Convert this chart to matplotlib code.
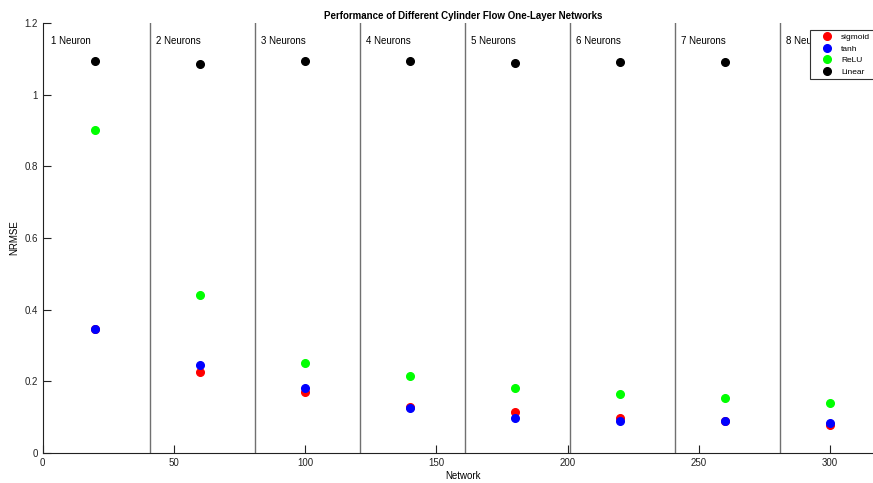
import numpy as np
import matplotlib
matplotlib.use("Agg")
import matplotlib.pyplot as plt

plt.rcParams['font.family'] = ['Liberation Sans', 'DejaVu Sans']

# one network per neuron count, centred in its band
networks = [20, 60, 100, 140, 180, 220, 260, 300]
band_edges = [41, 81, 121, 161, 201, 241, 281]
band_labels = ['1 Neuron', '2 Neurons', '3 Neurons', '4 Neurons',
               '5 Neurons', '6 Neurons', '7 Neurons', '8 Neurons']

nrmse_sigmoid = [0.346, 0.226, 0.170, 0.128, 0.114, 0.098, 0.090, 0.079]
nrmse_tanh = [0.346, 0.246, 0.182, 0.125, 0.099, 0.089, 0.089, 0.085]
nrmse_relu = [0.901, 0.441, 0.251, 0.214, 0.181, 0.165, 0.153, 0.140]
nrmse_linear = [1.094, 1.086, 1.094, 1.094, 1.088, 1.091, 1.091, 1.093]

fig = plt.figure(figsize=(8.73, 4.83), dpi=100)
ax = fig.add_axes([0.0489, 0.0621, 0.9622, 0.8903])

for xe in band_edges:
    ax.plot([xe, xe], [0, 1.2], color='#707070', lw=1.0, zorder=1)
for i, lab in enumerate(band_labels):
    xt = 3 if i == 0 else band_edges[i - 1] + 2
    ax.text(xt, 1.15, lab, fontsize=7, va='center', ha='left')

ms = 5.5
ax.plot(networks, nrmse_sigmoid, 'o', color='red', ms=ms, label='sigmoid', zorder=3)
ax.plot(networks, nrmse_tanh, 'o', color='blue', ms=ms, label='tanh', zorder=3)
ax.plot(networks, nrmse_relu, 'o', color='#00ff00', ms=ms, label='ReLU', zorder=3)
ax.plot(networks, nrmse_linear, 'o', color='black', ms=ms, label='Linear', zorder=3)

ax.set_xlim(0, 320)
ax.set_ylim(0, 1.2)
ax.set_xticks([0, 50, 100, 150, 200, 250, 300])
ax.set_yticks([0, 0.2, 0.4, 0.6, 0.8, 1.0, 1.2])
ax.set_yticklabels(['0', '0.2', '0.4', '0.6', '0.8', '1', '1.2'])
ax.tick_params(direction='in', length=6, width=0.8, labelsize=7, colors='#222222')
for s in ['top', 'right']:
    ax.spines[s].set_visible(False)
for s in ['left', 'bottom']:
    ax.spines[s].set_linewidth(0.8)
    ax.spines[s].set_color('#222222')

ax.set_xlabel('Network', fontsize=7, labelpad=2)
ax.set_ylabel('NRMSE', fontsize=7, labelpad=4)
ax.set_title('Performance of Different Cylinder Flow One-Layer Networks',
             fontsize=7, fontweight='bold', pad=3)

leg = ax.legend(loc='upper left', bbox_to_anchor=(0.9135, 0.9837), fontsize=6.0,
                frameon=True, fancybox=False, framealpha=1.0, borderaxespad=0,
                handlelength=3.2, handletextpad=0.15,
                borderpad=0.4, labelspacing=0.45)
leg.get_frame().set_edgecolor('#333333')
leg.get_frame().set_linewidth(0.8)

fig.savefig('out.png', dpi=100)
